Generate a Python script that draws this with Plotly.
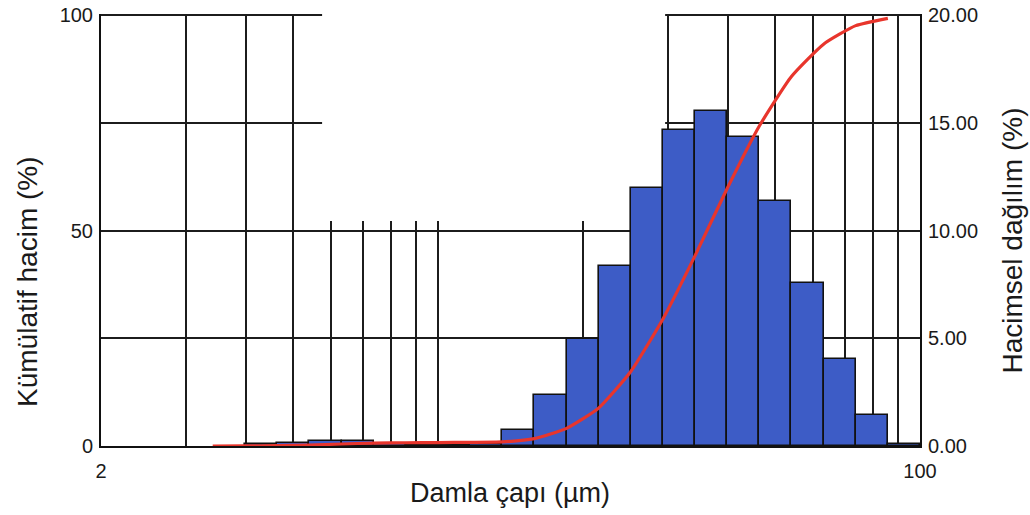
import plotly.graph_objects as go

# Bin edges (µm), 1/15-decade bins
bin_left = [3.98, 4.64, 5.41, 6.31, 7.36, 8.58, 10.0, 11.66, 13.59, 15.85, 18.48,
            21.54, 25.12, 29.29, 34.15, 39.81, 46.42, 54.12, 63.10, 73.56, 85.77]
bin_right = [4.64, 5.41, 6.31, 7.36, 8.58, 10.0, 11.66, 13.59, 15.85, 18.48, 21.54,
             25.12, 29.29, 34.15, 39.81, 46.42, 54.12, 63.10, 73.56, 85.77, 100.0]
# Volume distribution (%) per bin, right axis
dist = [0.08, 0.15, 0.23, 0.23, 0.10, 0.06, 0.06, 0.10, 0.74, 2.37, 4.97,
        8.35, 11.97, 14.66, 15.55, 14.34, 11.37, 7.56, 4.04, 1.44, 0.08]

# Cumulative volume (%) curve, left axis
cum_x = [3.41, 3.98, 4.64, 5.41, 6.31, 7.36, 8.58, 10.0, 11.66, 13.59, 15.85, 18.48,
         21.54, 25.12, 29.29, 34.15, 39.81, 46.42, 54.12, 63.10, 73.56, 85.77]
cum_y = [0.0, 0.02, 0.08, 0.23, 0.46, 0.69, 0.75, 0.80, 0.85, 0.95, 1.7, 4.1,
         8.8, 17.3, 29.5, 44.2, 59.8, 74.3, 85.8, 93.3, 97.6, 99.3]

x_grid = [2, 3, 4, 5, 6, 7, 8, 9, 10, 20, 30, 40, 50, 60, 70, 80, 90, 100]
x_labels = ["2"] + [""] * 16 + ["100"]
left_ticks = [0, 50, 100]
right_ticks = [0, 5, 10, 15, 20]

widths = [r - l for l, r in zip(bin_left, bin_right)]

FONT = "Liberation Sans, Arial, sans-serif"
GRID = "#1c1c1c"
TOP = 1.003  # tiny headroom so the top grid line is kept

fig = go.Figure()
fig.add_trace(go.Bar(
    x=bin_left, y=dist, width=widths, offset=0,
    marker=dict(color="#3d5cc6", line=dict(color="#111111", width=1.6)),
    yaxis="y", showlegend=False,
))
fig.add_trace(go.Scatter(
    x=cum_x, y=cum_y, mode="lines",
    line=dict(color="#e8352c", width=3.2, shape="spline", smoothing=0.5),
    yaxis="y2", showlegend=False,
))

# white patch where the scanned original has its grid erased
fig.add_shape(type="rect", xref="x", yref="y", x0=5.75, x1=29.6, y0=10.45, y1=20.6,
              fillcolor="white", line=dict(width=0), layer="between")

fig.update_layout(
    width=1030, height=515,
    margin=dict(l=101, r=110, t=14, b=69),
    plot_bgcolor="white", paper_bgcolor="white",
    font=dict(family=FONT, color="#1a1a1a"),
    bargap=0,
    xaxis=dict(
        type="log", range=[0.30103, 2.0], automargin=False,
        tickvals=x_grid, ticktext=x_labels,
        showgrid=True, gridcolor=GRID, gridwidth=1.5,
        showline=True, linecolor="#111111", linewidth=2,
        ticks="", ticklabelstandoff=6,
        tickfont=dict(size=20, family=FONT),
        zeroline=False,
    ),
    yaxis=dict(
        side="right", range=[0, 20 * TOP], automargin=False,
        tickvals=right_ticks, tickformat=".2f",
        showgrid=True, gridcolor=GRID, gridwidth=1.5,
        showline=True, linecolor="#111111", linewidth=2,
        ticks="", ticklabelstandoff=2,
        tickfont=dict(size=20, family=FONT),
        zeroline=False,
    ),
    yaxis2=dict(
        overlaying="y", side="left", range=[0, 100 * TOP], automargin=False,
        tickvals=left_ticks,
        showgrid=False,
        showline=True, linecolor="#111111", linewidth=2,
        ticks="", ticklabelstandoff=2,
        tickfont=dict(size=20, family=FONT),
        zeroline=False,
    ),
    annotations=[
        dict(text="Kümülatif hacim (%)", xref="paper", yref="paper",
             x=-0.089, y=0.38, textangle=-90, showarrow=False,
             xanchor="center", yanchor="middle", font=dict(size=28, family=FONT)),
        dict(text="Hacimsel dağılım (%)", xref="paper", yref="paper",
             x=1.1136, y=0.4756, textangle=-90, showarrow=False,
             xanchor="center", yanchor="middle", font=dict(size=28, family=FONT)),
        dict(text="Damla çapı (µm)", xref="paper", yref="paper",
             x=0.4994, y=-0.109, showarrow=False,
             xanchor="center", yanchor="middle", font=dict(size=27, family=FONT)),
    ],
)

fig.write_html("out.html", config={"displayModeBar": False},
               post_script="document.body.style.margin='0';")
